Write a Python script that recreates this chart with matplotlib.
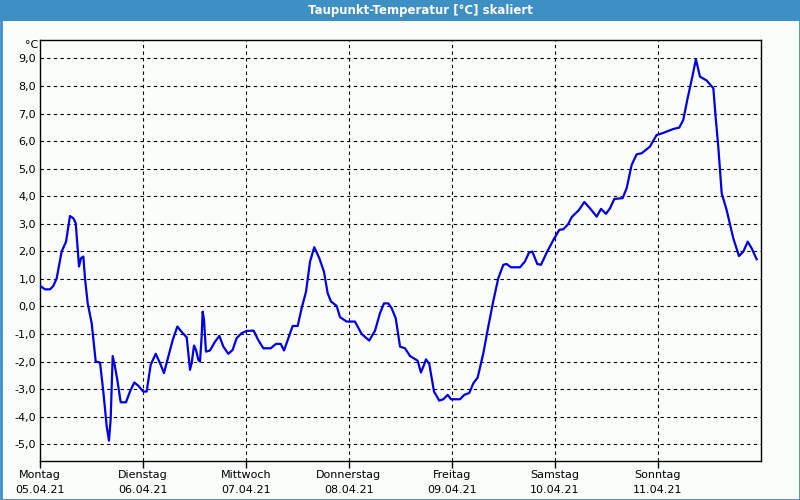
import matplotlib
matplotlib.use("Agg")
import matplotlib.pyplot as plt
from matplotlib.patches import Rectangle

# time in days since Monday 00:00, dew point in °C
days = [0.01, 0.049, 0.097, 0.129, 0.162, 0.21, 0.253, 0.291, 0.324, 0.347,
        0.379, 0.398, 0.421, 0.437, 0.463, 0.502, 0.541, 0.583, 0.615, 0.648,
        0.670, 0.686, 0.706, 0.728, 0.751, 0.784, 0.835, 0.874, 0.916, 0.955,
        1.003, 1.036, 1.075, 1.124, 1.166, 1.204, 1.246, 1.289, 1.334, 1.386,
        1.425, 1.457, 1.473, 1.496, 1.515, 1.538, 1.554, 1.570, 1.580, 1.593,
        1.612, 1.651, 1.700, 1.742, 1.781, 1.829, 1.871, 1.910, 1.959, 2.007,
        2.075, 2.12, 2.169, 2.241, 2.292, 2.338, 2.370, 2.412, 2.454, 2.503,
        2.541, 2.584, 2.623, 2.664, 2.713, 2.758, 2.794, 2.826, 2.881, 2.914,
        2.978, 3.059, 3.124, 3.198, 3.254, 3.302, 3.341, 3.383, 3.416, 3.455,
        3.497, 3.545, 3.594, 3.668, 3.700, 3.730, 3.749, 3.781, 3.827, 3.878,
        3.917, 3.960, 3.992, 4.079, 4.121, 4.170, 4.209, 4.251, 4.306, 4.348,
        4.403, 4.451, 4.500, 4.532, 4.575, 4.662, 4.710, 4.749, 4.782, 4.830,
        4.866, 4.921, 4.986, 5.044, 5.083, 5.131, 5.164, 5.235, 5.287, 5.342,
        5.407, 5.449, 5.497, 5.536, 5.578, 5.659, 5.698, 5.747, 5.795, 5.844,
        5.924, 5.989, 6.048, 6.151, 6.209, 6.248, 6.287, 6.336, 6.371, 6.410,
        6.475, 6.540, 6.562, 6.588, 6.621, 6.669, 6.734, 6.789, 6.831, 6.874,
        6.912, 6.961]
dewpoint = [0.72, 0.62, 0.62, 0.74, 1.02, 1.99, 2.35, 3.28, 3.2, 3.02,
            1.45, 1.75, 1.81, 1.02, 0.12, -0.61, -2.0, -2.04, -3.09, -4.36,
            -4.87, -4.12, -1.80, -2.18, -2.67, -3.48, -3.48, -3.09, -2.76, -2.88,
            -3.09, -3.09, -2.12, -1.72, -2.06, -2.42, -1.82, -1.22, -0.73, -0.97,
            -1.12, -2.30, -2.06, -1.42, -1.58, -1.94, -2.0, -1.10, -0.19, -0.49,
            -1.64, -1.6, -1.28, -1.07, -1.46, -1.72, -1.58, -1.15, -0.97, -0.89,
            -0.88, -1.22, -1.52, -1.52, -1.36, -1.36, -1.60, -1.16, -0.71, -0.71,
            -0.07, 0.54, 1.63, 2.15, 1.75, 1.26, 0.48, 0.18, 0.02, -0.39,
            -0.55, -0.55, -1.0, -1.24, -0.88, -0.25, 0.11, 0.11, -0.07, -0.43,
            -1.46, -1.52, -1.80, -1.97, -2.40, -2.12, -1.92, -2.09, -3.09, -3.42,
            -3.37, -3.21, -3.37, -3.37, -3.21, -3.14, -2.79, -2.58, -1.70, -0.85,
            0.2, 1.02, 1.51, 1.54, 1.42, 1.42, 1.63, 1.95, 1.99, 1.54,
            1.51, 1.95, 2.41, 2.78, 2.80, 2.99, 3.24, 3.50, 3.79, 3.56,
            3.26, 3.54, 3.36, 3.56, 3.90, 3.93, 4.29, 5.14, 5.52, 5.56,
            5.80, 6.22, 6.29, 6.44, 6.49, 6.77, 7.50, 8.34, 8.97, 8.34,
            8.20, 7.92, 6.89, 5.80, 4.11, 3.50, 2.47, 1.83, 1.99, 2.35,
            2.11, 1.71]

weekdays = ["Montag", "Dienstag", "Mittwoch", "Donnerstag", "Freitag", "Samstag", "Sonntag"]
dates = ["05.04.21", "06.04.21", "07.04.21", "08.04.21", "09.04.21", "10.04.21", "11.04.21"]
yticks = list(range(-5, 10))

bg = "#fbfdfb"
bar_blue = "#3d8fc4"

fig = plt.figure(figsize=(8, 5), dpi=100, facecolor=bg)

# title bar and window border
fig.patches.append(Rectangle((0, 1 - 21 / 500), 1, 21 / 500, transform=fig.transFigure,
                             facecolor=bar_blue, edgecolor="none", zorder=0))
fig.patches.append(Rectangle((0.5 / 800, 0.5 / 500), 1 - 1 / 800, 1 - 1 / 500, transform=fig.transFigure,
                             facecolor="none", edgecolor=bar_blue, linewidth=2, zorder=1))
fig.text(420 / 800, 1 - 10.5 / 500, "Taupunkt-Temperatur [°C] skaliert", color="white",
         fontsize=8.5, fontweight="bold", ha="center", va="center")

ax = fig.add_axes([40 / 800, 39.3 / 500, 720.7 / 800, 420.7 / 500])
ax.set_facecolor(bg)
ax.plot(days, dewpoint, color="#0000e6", linewidth=1.6, zorder=3)

ax.set_xlim(0, 7)
ax.set_ylim(-5.6, 9.67)

ax.set_yticks(yticks)
ax.set_yticklabels([f"{v},0" for v in yticks], fontsize=8)
ax.tick_params(axis="y", length=0, pad=3)

ax.set_xticks(range(7))
ax.set_xticklabels([f"{w}\n{d}" for w, d in zip(weekdays, dates)], fontsize=8, linespacing=1.55)
ax.tick_params(axis="x", length=5, width=1, direction="out", pad=2)

for v in yticks:
    ax.axhline(v, color="black", linewidth=0.8, linestyle=(0, (3, 3)), zorder=1)
for d in range(1, 7):
    ax.axvline(d, color="black", linewidth=0.8, linestyle=(0, (3, 3)), zorder=1)

for s in ax.spines.values():
    s.set_linewidth(1)
    s.set_color("black")

ax.text(-0.003, 9.67, "°C", transform=ax.get_yaxis_transform(), fontsize=8,
        ha="right", va="top")

fig.savefig("out.png", dpi=100, facecolor=bg)
